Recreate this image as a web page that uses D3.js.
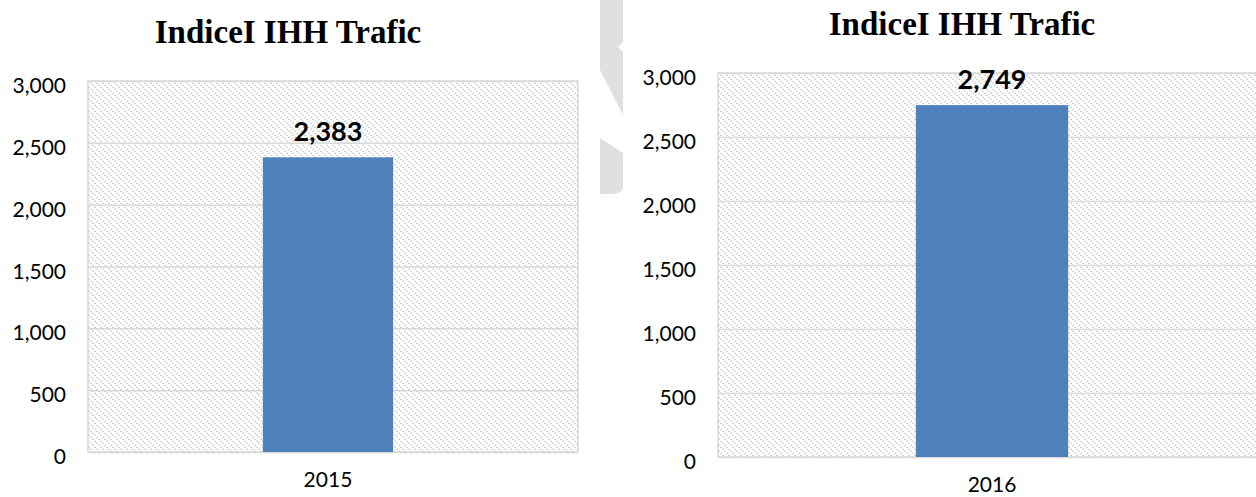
<!DOCTYPE html>
<html>
<head>
<meta charset="utf-8">
<script src="https://cdn.jsdelivr.net/npm/d3@7"></script>
<style>
  body { margin: 0; background: #fff; }
  svg { display: block; }
  .tick text { font-family: Lato, "Open Sans", sans-serif; font-size: 21px; fill: #000; }
</style>
</head>
<body>
<div id="chart"></div>
<script>
// data
const chartTitle = "IndiceI IHH Trafic"
const years = ["2015", "2016"]
const ihhValues = [2383, 2749]
const yTicks = [0, 500, 1000, 1500, 2000, 2500, 3000]
const yMax = 3000

width = 1256
height = 497

// where each of the two panels sits on the page
const panels = [
  {left: 88, right: 578, top: 81, bottom: 452, pad: 0.58, align: 0.486, titleX: 288, titleY: 43},
  {left: 718, right: 1266, top: 73, bottom: 457, pad: 0.565, align: 0.5, titleX: 962, titleY: 35}
]

const svg = d3.select("#chart")
  .append("svg")
    .attr("width", width)
    .attr("height", height)

// light diagonal hatching used by excel for the plot area
const pat = svg.append("defs").append("pattern")
    .attr("id", "hatch")
    .attr("patternUnits", "userSpaceOnUse")
    .attr("width", 6)
    .attr("height", 6)
;[0, 2, 4].forEach(r => {
  pat.append("rect").attr("x", r).attr("y", r).attr("width", 2).attr("height", 1).attr("fill", "#d4d4d4")
  pat.append("rect").attr("x", (r + 3) % 6).attr("y", r + 1).attr("width", 1).attr("height", 1).attr("fill", "#e4e4e4")
})

// faint watermark piece between the two charts
svg.append("path")
  .attr("d", "M600,0 L623,0 L623,42 L618,47 L623,52 L623,115 L600,70 Z")
  .attr("fill", "#e0e0e0")
svg.append("path")
  .attr("d", "M600,138 L623,153 L623,186 Q623,194 612,194 L600,194 Z")
  .attr("fill", "#e0e0e0")

panels.forEach((p, i) => {
  const w = p.right - p.left
  const h = p.bottom - p.top

  const x = d3.scaleBand()
      .domain([years[i]])
      .range([0, w])
      .padding(p.pad)
      .align(p.align)

  const y = d3.scaleLinear()
      .domain([0, yMax])
      .range([h, 0])

  const g = svg.append("g")
      .attr("transform", `translate(${p.left},${p.top})`)

  g.append("rect")
      .attr("width", w)
      .attr("height", h)
      .attr("fill", "url(#hatch)")
      .attr("stroke", "#d9d9d9")
      .attr("stroke-width", 1.5)

  // gridlines
  g.append("g")
      .call(d3.axisLeft(y).tickValues(yTicks).tickSize(-w).tickFormat(""))
      .call(a => a.select(".domain").remove())
      .call(a => a.selectAll("line").attr("stroke", "#d9d9d9").attr("stroke-width", 1.5))

  // y labels
  g.append("g")
      .call(d3.axisLeft(y).tickValues(yTicks).tickSize(0).tickPadding(22).tickFormat(d3.format(",")))
      .call(a => a.select(".domain").remove())
      .call(a => a.selectAll("text").attr("dy", "0.55em"))

  // x label
  g.append("g")
      .attr("transform", `translate(0,${h})`)
      .call(d3.axisBottom(x).tickSize(0).tickPadding(20))
      .call(a => a.select(".domain").remove())

  const v = ihhValues[i]
  g.append("rect")
      .attr("x", x(years[i]))
      .attr("y", y(v))
      .attr("width", x.bandwidth())
      .attr("height", h - y(v))
      .attr("fill", "#4f81bd")

  g.append("text")
      .attr("x", x(years[i]) + x.bandwidth() / 2)
      .attr("y", y(v) - 16)
      .attr("text-anchor", "middle")
      .style("font-family", "Lato, sans-serif")
      .style("font-weight", "bold")
      .style("font-size", "27px")
      .text(d3.format(",")(v))

  svg.append("text")
      .attr("x", p.titleX)
      .attr("y", p.titleY)
      .attr("text-anchor", "middle")
      .style("font-family", "'Liberation Serif', 'DejaVu Serif', serif")
      .style("font-weight", "bold")
      .style("font-size", "33px")
      .text(chartTitle)
})
</script>
</body>
</html>
